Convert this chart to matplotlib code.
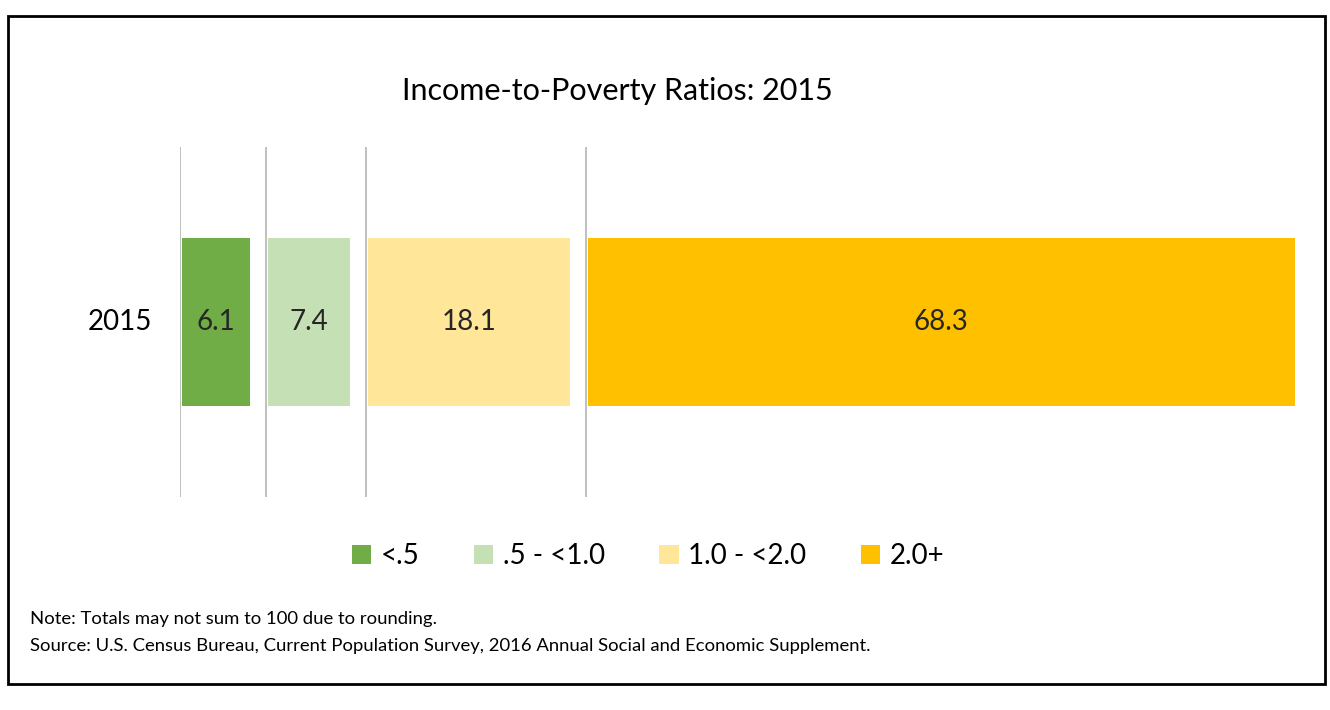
import matplotlib
matplotlib.use('Agg')
import matplotlib.pyplot as plt
import matplotlib as mpl
from matplotlib.patches import Rectangle, Patch
mpl.rcParams['font.family'] = ['Lato', 'DejaVu Sans']

year = '2015'
categories = ['<.5', '.5 - <1.0', '1.0 - <2.0', '2.0+']
values = [6.1, 7.4, 18.1, 68.3]
colors = ['#70AD47', '#C5E0B4', '#FFE699', '#FFC000']
gap = 1.6  # white space between segments, in data units

fig = plt.figure(figsize=(13.3, 7.1), dpi=100)
ax = fig.add_axes([180/1330, 1 - 497/710, 1115/1330, 350/710])

left = 0.15
for v, c in zip(values, colors):
    ax.axvline(left - 0.15, color='#B4B4B4', lw=1.2, zorder=0)
    ax.barh(0, v, left=left, height=0.48, color=c, zorder=2)
    ax.text(min(left + v/2, (left + 100)/2), 0, f'{v:.1f}', ha='center', va='center',
            fontsize=20, color='#262626', zorder=3)
    left += v + gap

ax.set_xlim(0, 100)
ax.set_ylim(-0.5, 0.5)
ax.set_xticks([])
ax.set_yticks([])
for s in ax.spines.values():
    s.set_visible(False)
ax.text(-0.025, 0.5, year, transform=ax.transAxes, ha='right', va='center',
        fontsize=20, color='black')

fig.text(617/1330, 1 - 91/710, 'Income-to-Poverty Ratios: 2015', ha='center', va='center',
         fontsize=22, color='black')

handles = [Patch(facecolor=c, edgecolor='none') for c in colors]
fig.legend(handles, categories, loc='center', bbox_to_anchor=(648/1330, 1 - 556/710),
           ncol=4, frameon=False, fontsize=20, handlelength=0.7, handleheight=0.7,
           handletextpad=0.35, columnspacing=1.95)

fig.text(30/1330, 1 - 619/710, 'Note: Totals may not sum to 100 due to rounding.',
         ha='left', va='center', fontsize=13.3, color='black')
fig.text(30/1330, 1 - 646/710,
         'Source: U.S. Census Bureau, Current Population Survey, 2016 Annual Social and Economic Supplement.',
         ha='left', va='center', fontsize=13.3, color='black')

fig.patches.append(Rectangle((8/1330, 1 - 684/710), 1317/1330, 668/710, transform=fig.transFigure,
                             fill=False, edgecolor='black', lw=2))

fig.savefig('out.png', dpi=100, facecolor='white')
